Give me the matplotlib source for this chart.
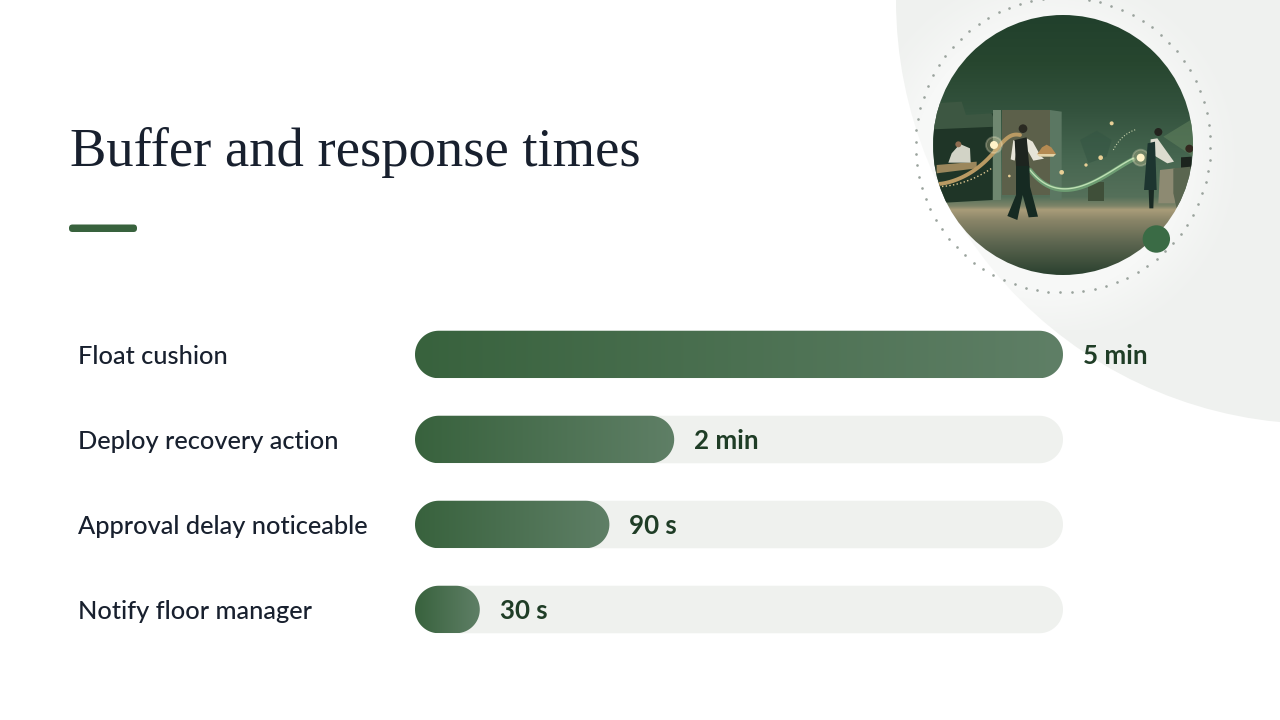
import numpy as np
import matplotlib
matplotlib.use("Agg")
import matplotlib.pyplot as plt
from matplotlib.colors import LinearSegmentedColormap
from matplotlib.patches import Circle, FancyBboxPatch, Polygon

title = "Buffer and response times"
categories = ["Float cushion", "Deploy recovery action", "Approval delay noticeable", "Notify floor manager"]
seconds = [300, 120, 90, 30]
value_labels = ["5 min", "2 min", "90 s", "30 s"]
axis_max = 300

W, H = 1280, 720
GREEN = "#38623d"
INK = "#18202e"
VALUE_INK = "#1f3d26"
TRACK = "#eff1ee"
plt.rcParams["font.family"] = ["Lato", "DejaVu Sans"]

fig = plt.figure(figsize=(W / 100, H / 100), dpi=100, facecolor="white")

# ---------- decoration layer in pixel coordinates ----------
deco = fig.add_axes([0, 0, 1, 1], zorder=0)
deco.set_xlim(0, W)
deco.set_ylim(H, 0)
deco.axis("off")

deco.add_patch(Circle((1320, 0), 424, fc="#eff1ef", ec="none", zorder=.5))

cx, cy, R = 1063, 145, 130

# soft white glow round the disc, fading out over the blob
yy, xx = np.mgrid[0:330, 880:1280]
dist = np.hypot(xx - cx + 14, yy - cy - 14)
glow = np.zeros(dist.shape + (4,))
glow[..., :3] = 1
glow[..., 3] = np.clip((200 - dist) / 70, 0, 1) ** 1.4 * .55
deco.imshow(glow, extent=(880, 1280, 330, 0), aspect="auto", zorder=.6, interpolation="bilinear")
deco.set_xlim(0, W)
deco.set_ylim(H, 0)

ang = np.linspace(0, 2 * np.pi, 80, endpoint=False) + .02
deco.scatter(cx + 147.5 * np.cos(ang), cy + 147.5 * np.sin(ang), s=3.6, c="#9aa39d", lw=0, zorder=1)

# scene disc
clip = Circle((cx, cy), R, transform=deco.transData)
stops = [(0, "#21402c"), (.18, "#27462f"), (.36, "#33523d"), (.55, "#466650"), (.70, "#55705a"),
         (.735, "#7d8468"), (.75, "#a99c79"), (.79, "#8a8568"), (.88, "#5d6650"), (1, "#2c4230")]
cmap = LinearSegmentedColormap.from_list("scene", stops)
im = deco.imshow(np.linspace(0, 1, 260)[:, None], cmap=cmap, extent=(cx - R, cx + R, cy + R, cy - R),
                 aspect="auto", zorder=2, origin="upper")
im.set_clip_path(clip)
deco.set_xlim(0, W)
deco.set_ylim(H, 0)


def Z(pts):
    return [(880 + x / 3, y / 3) for x, y in pts]


def shape(pts, color, z=3, alpha=1):
    p = Polygon(Z(pts), closed=True, fc=color, ec="none", alpha=alpha, zorder=z)
    deco.add_patch(p)
    p.set_clip_path(clip)


def dot(x, y, r, color, z=3, alpha=1, ec="none", lw=0):
    p = Circle((880 + x / 3, y / 3), r / 3, fc=color, ec=ec, lw=lw, alpha=alpha, zorder=z)
    deco.add_patch(p)
    p.set_clip_path(clip)


def curve(pts, color, lw, z=4, alpha=1, ls="-"):
    arr = np.array(pts, float)
    t = np.linspace(0, 1, len(arr))
    tt = np.linspace(0, 1, 120)
    coef = np.polyfit(t, arr, min(len(arr) - 1, 6))
    xs = np.polyval(coef[:, 0], tt)
    ys = np.polyval(coef[:, 1], tt)
    l, = deco.plot(880 + xs / 3, ys / 3, color=color, lw=lw, alpha=alpha, ls=ls, zorder=z,
                   solid_capstyle="round")
    l.set_clip_path(clip)


# kitchen, door and furniture
shape([(160, 385), (338, 340), (338, 600), (160, 610)], "#1f3527")
shape([(160, 310), (245, 305), (258, 345), (335, 340), (350, 380), (160, 388)], "#3d5742")
shape([(338, 330), (362, 330), (362, 600), (338, 600)], "#6f8770")
shape([(365, 330), (510, 330), (510, 585), (365, 585)], "#5c604a")
shape([(510, 330), (545, 335), (545, 600), (510, 600)], "#5b7762")
shape([(600, 420), (650, 392), (695, 420), (680, 470), (625, 490)], "#345543", alpha=.55)
shape([(625, 545), (672, 545), (672, 602), (625, 602)], "#3f4f39")
shape([(850, 410), (940, 355), (940, 470)], "#5f7f5c", alpha=.6)
shape([(170, 495), (290, 485), (290, 505), (170, 520)], "#9b875c")
shape([(215, 460), (240, 432), (270, 445), (272, 488), (205, 488)], "#d2d3c6")
dot(235, 433, 9, "#8f6c50")

# light paths
curve([(175, 552), (250, 530), (320, 480), (370, 425), (420, 405)], "#b99a63", 2.8)
curve([(175, 560), (255, 545), (335, 505)], "#e0c891", 1.0, ls=":")
curve([(450, 510), (510, 560), (590, 565), (680, 525), (760, 478)], "#6d9c72", 3.2)
curve([(450, 510), (510, 558), (590, 562), (680, 522), (760, 475)], "#bfe0b4", 1.0)
curve([(700, 450), (730, 410), (770, 388)], "#c6d0aa", .8, ls=":")
for x, y, r in [(695, 370, 6), (662, 473, 7), (618, 495, 5), (545, 517, 7), (388, 528, 4)]:
    dot(x, y, r, "#e8cf96", z=5)
for x, y in [(342, 435), (782, 473)]:
    dot(x, y, 24, "#f5e3ae", z=5, alpha=.25, ec="#fff6d8", lw=1.3)
    dot(x, y, 12, "#fff3c8", z=6)

# waiter with tray
dot(429, 386, 13, "#2a2a22", z=7)
shape([(400, 420), (392, 478), (404, 482), (415, 430)], "#e6e4d8", z=7)
shape([(440, 415), (458, 425), (482, 468), (492, 476), (460, 482), (442, 450)], "#e6e4d8", z=7)
shape([(404, 420), (440, 412), (448, 500), (408, 500)], "#1d241f", z=8)
shape([(408, 498), (448, 498), (450, 560), (474, 650), (446, 652), (428, 585), (412, 660),
       (382, 648), (408, 585)], "#162a22", z=8)
shape([(472, 462), (486, 442), (500, 434), (514, 442), (528, 462)], "#b58a52", z=9)
shape([(470, 462), (528, 462), (520, 470), (478, 470)], "#e4d3a8", z=9)
# table and seated guest
shape([(840, 510), (885, 505), (885, 610), (835, 610)], "#8d8a72", z=6)
dot(928, 446, 12, "#33281f", z=7)
shape([(903, 472), (935, 470), (935, 505), (903, 505)], "#1c241e", z=7)
shape([(880, 505), (932, 500), (925, 580), (890, 625), (880, 580)], "#5a6650", z=8)
# standing waiter
dot(835, 396, 12, "#23231e", z=7)
shape([(812, 418), (832, 415), (882, 485), (862, 490), (825, 468), (810, 470)], "#dcdccf", z=7)
shape([(803, 430), (825, 425), (830, 570), (792, 570)], "#1d3530", z=8)
shape([(806, 570), (822, 570), (820, 625), (808, 625)], "#1a2a24", z=8)

deco.add_patch(Circle((880 + 829 / 3, 717 / 3), 13.7, fc="#3a6b45", ec="none", zorder=10))

# accent rule and title
deco.add_patch(FancyBboxPatch((69, 224.5), 68, 7.5, boxstyle="round,pad=0,rounding_size=3.5",
                              fc=GREEN, ec="none", zorder=3))
deco.text(70, 165.5, title, fontsize=39.3, color=INK, family=["Liberation Serif", "DejaVu Serif"],
          va="baseline", ha="left")

# ---------- bar chart with seconds on x and rows on y ----------
left, right, top, bottom = 415, 1063, 300, 660
ax = fig.add_axes([left / W, 1 - bottom / H, (right - left) / W, (bottom - top) / H], zorder=2)
ax.patch.set_alpha(0)
row_px = 85
ylim = (3 + (bottom - 609.5) / row_px, -(354.5 - top) / row_px)
ax.set_xlim(0, axis_max)
ax.set_ylim(*ylim)
ax.axis("off")

px_x = (right - left) / axis_max
bar_h = 47.5 / row_px
rad_x = 23.75 / px_x
ramp = LinearSegmentedColormap.from_list("bar", ["#38623d", "#5f7f66"])
arc = np.linspace(-np.pi / 2, np.pi / 2, 40)


def pill(v, i, **kw):
    """Fully rounded bar from 0 to v in row i, with true semicircular ends."""
    xr = v - rad_x + rad_x * np.cos(arc)
    yr = i + bar_h / 2 * np.sin(arc)
    xl = rad_x - rad_x * np.cos(arc[::-1])
    yl = i + bar_h / 2 * np.sin(arc[::-1])
    return Polygon(np.c_[np.r_[xr, xl], np.r_[yr, yl]], closed=True, ec="none", **kw)


for i, (name, v, lab) in enumerate(zip(categories, seconds, value_labels)):
    ax.add_patch(pill(axis_max, i, fc=TRACK, zorder=1))
    shell = pill(v, i, fc="none", zorder=2)
    ax.add_patch(shell)
    g = ax.imshow(np.linspace(0, 1, 256)[None, :], cmap=ramp, extent=(0, v, i + bar_h / 2, i - bar_h / 2),
                  aspect="auto", zorder=2, interpolation="bilinear")
    g.set_clip_path(shell)
    ax.annotate(name, (0, i), xytext=(-(left - 78) * .72, -1.2), textcoords="offset points", color=INK,
                fontsize=18.3, fontweight="medium", va="center", ha="left", annotation_clip=False)
    ax.annotate(lab, (v, i), xytext=(20 * .72, -1.2), textcoords="offset points", color=VALUE_INK,
                fontsize=18.6, fontweight="bold", va="center", ha="left", annotation_clip=False)
ax.set_xlim(0, axis_max)
ax.set_ylim(*ylim)

fig.savefig("out.png", dpi=100, facecolor="white")
